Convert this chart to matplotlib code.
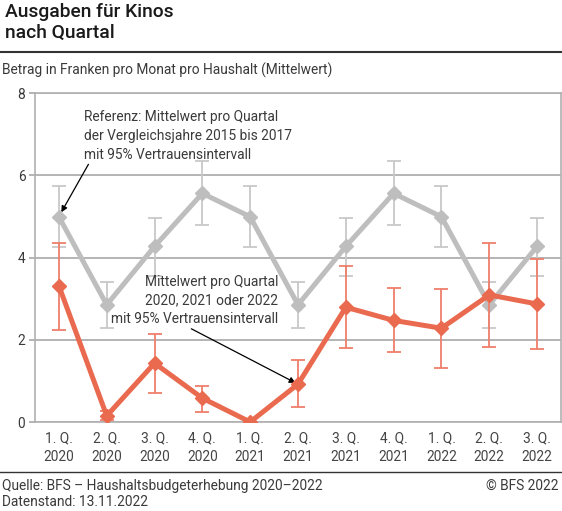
import matplotlib
matplotlib.use("Agg")
import matplotlib.pyplot as plt
import numpy as np

plt.rcParams['font.family'] = ['Roboto', 'DejaVu Sans']

quarters = ["1. Q.\n2020", "2. Q.\n2020", "3. Q.\n2020", "4. Q.\n2020",
            "1. Q.\n2021", "2. Q.\n2021", "3. Q.\n2021", "4. Q.\n2021",
            "1. Q.\n2022", "2. Q.\n2022", "3. Q.\n2022"]

ref_mean = [4.99, 2.85, 4.27, 5.56, 4.99, 2.85, 4.27, 5.56, 4.99, 2.85, 4.27]
ref_low = [4.25, 2.28, 3.55, 4.79, 4.25, 2.28, 3.55, 4.79, 4.25, 2.28, 3.55]
ref_high = [5.74, 3.40, 4.97, 6.34, 5.74, 3.40, 4.97, 6.34, 5.74, 3.40, 4.97]

val_mean = [3.31, 0.15, 1.43, 0.58, 0.0, 0.92, 2.79, 2.47, 2.28, 3.09, 2.87]
val_low = [2.23, 0.04, 0.71, 0.24, 0.0, 0.36, 1.80, 1.69, 1.31, 1.83, 1.77]
val_high = [4.36, 0.27, 2.15, 0.88, 0.0, 1.50, 3.79, 3.27, 3.24, 4.35, 3.97]

yticks = [0, 2, 4, 6, 8]

GREY = "#BEBEBE"
GREY_ERR = "#C8C8C8"
RED = "#EA6A50"
RED_ERR = "#EE7F6A"
TXT = "#3A3A3A"
FS = 9.9

fig = plt.figure(figsize=(5.62, 5.11), dpi=100)
ax = fig.add_axes([35/562, 1-422/511, (561-35)/562, (422-93)/511])

x = np.arange(len(quarters))
ref_mean_a = np.array(ref_mean)
val_mean_a = np.array(val_mean)

ax.errorbar(x, ref_mean_a, yerr=[ref_mean_a-np.array(ref_low), np.array(ref_high)-ref_mean_a],
            fmt='none', ecolor=GREY_ERR, elinewidth=1.3, capsize=4.8, capthick=1.3, zorder=3)
ax.plot(x, ref_mean_a, color=GREY, lw=3.6, marker='D', markersize=7.5, zorder=4)

ax.errorbar(x, val_mean_a, yerr=[val_mean_a-np.array(val_low), np.array(val_high)-val_mean_a],
            fmt='none', ecolor=RED_ERR, elinewidth=1.3, capsize=4.8, capthick=1.3, zorder=5)
ax.plot(x, val_mean_a, color=RED, lw=3.6, marker='D', markersize=7.5, zorder=6)

ax.set_xlim(-0.5, len(quarters)-0.5)
ax.set_ylim(0, 8)
ax.set_yticks(yticks)
ax.set_yticklabels([str(t) for t in yticks])
ax.set_xticks(x)
ax.set_xticklabels(quarters, linespacing=1.35)
ax.grid(axis='y', color="#A8A8A8", lw=1.2, zorder=0)
for s in ax.spines.values():
    s.set_color("#B0B0B0")
    s.set_linewidth(1.2)
ax.tick_params(axis='y', length=4, width=1.2, color="#A8A8A8", labelsize=FS, labelcolor=TXT, pad=3)
ax.tick_params(axis='x', length=0, labelsize=FS, labelcolor="#444444", pad=7)

# annotations
ax.annotate("Referenz: Mittelwert pro Quartal\nder Vergleichsjahre 2015 bis 2017\nmit 95% Vertrauensintervall",
            xy=(0.05, 5.1), xytext=(0.52, 7.58), ha='left', va='top', fontsize=FS,
            color=TXT, linespacing=1.42,
            arrowprops=dict(arrowstyle='-|>', color='black', lw=0.9,
                            shrinkA=0, shrinkB=0, mutation_scale=9,
                            relpos=(0.03, 0.0)))
ax.annotate("Mittelwert pro Quartal\n2020, 2021 oder 2022\nmit 95% Vertrauensintervall",
            xy=(4.95, 0.95), xytext=(4.58, 3.58), ha='right', va='top', fontsize=FS,
            color=TXT, linespacing=1.42, multialignment='right',
            arrowprops=dict(arrowstyle='-|>', color='black', lw=0.9,
                            shrinkA=0, shrinkB=0, mutation_scale=9,
                            relpos=(0.45, 0.0)))

# title and header
fig.text(5/562, 1-3/511, "Ausgaben für Kinos\nnach Quartal", ha='left', va='top',
         fontsize=13.9, fontweight='medium', color="#1A1A1A", linespacing=1.24)
fig.add_artist(plt.Line2D([0, 1], [1-52/511, 1-52/511], color="#333333", lw=1.5))
fig.text(2/562, 1-70/511, "Betrag in Franken pro Monat pro Haushalt (Mittelwert)", ha='left',
         va='center', fontsize=FS, color=TXT)

# footer
fig.add_artist(plt.Line2D([0, 1], [1-472/511, 1-472/511], color="#333333", lw=1.0))
fig.text(2/562, 1-486/511, "Quelle: BFS – Haushaltsbudgeterhebung 2020–2022", ha='left',
         va='center', fontsize=FS, color=TXT)
fig.text(2/562, 1-502/511, "Datenstand: 13.11.2022", ha='left', va='center', fontsize=FS,
         color=TXT)
fig.text(559/562, 1-486/511, "© BFS 2022", ha='right', va='center', fontsize=FS, color=TXT)

fig.savefig("out.png", dpi=100)
